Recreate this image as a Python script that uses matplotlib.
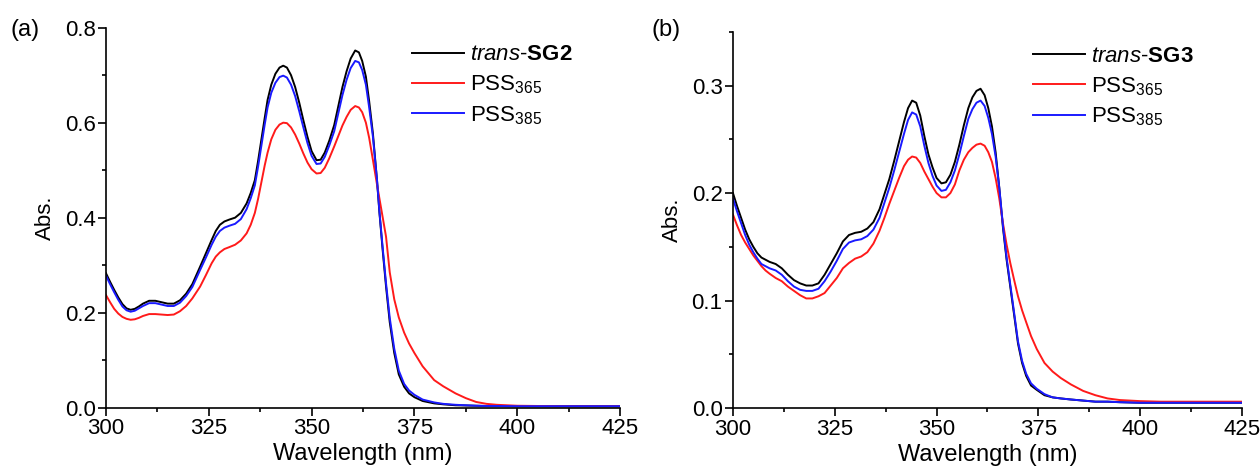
import matplotlib
matplotlib.use("Agg")
import matplotlib.pyplot as plt
from matplotlib.ticker import MultipleLocator, FormatStrFormatter

plt.rcParams['font.family'] = ['Liberation Sans', 'DejaVu Sans']
plt.rcParams['mathtext.fontset'] = 'custom'
plt.rcParams['mathtext.rm'] = 'Liberation Sans'
plt.rcParams['mathtext.it'] = 'Liberation Sans:italic'
plt.rcParams['mathtext.bf'] = 'Liberation Sans:bold'

# ---- (a) SG2 ----
wl_a = [300, 301, 302, 303, 304, 305, 306, 307, 308, 309,
        310.5, 312, 313.5, 315, 316.5, 318, 319.5, 321,
        322.9, 324.3, 325.7, 326.7, 327.7, 328.8, 330, 331.4, 332.8, 334.2, 335.2, 336.2,
        337, 337.8, 338.6, 339.3, 340.2, 341.2, 342.2, 343.1, 344, 345,
        346, 347, 348, 349, 350, 351.2, 352.2, 353.2, 354.3, 355.5,
        356.5, 357.5, 358.5, 359.5, 360.6, 361.5, 362.3, 363.2, 364, 364.9,
        365.9, 366.5, 367.3, 368.1, 369, 370.1, 371.2, 372.5, 373.7, 375,
        377, 379.8, 382, 385, 387.5, 390, 392.5, 395, 400, 410, 425]
abs_a_trans = [0.283, 0.265, 0.248, 0.232, 0.218, 0.209, 0.206, 0.208, 0.213, 0.219,
               0.225, 0.225, 0.222, 0.219, 0.219, 0.226, 0.240, 0.260,
               0.297, 0.325, 0.353, 0.372, 0.385, 0.392, 0.396, 0.400, 0.410, 0.430, 0.452, 0.479,
               0.520, 0.565, 0.610, 0.648, 0.680, 0.703, 0.716, 0.720, 0.716, 0.700,
               0.675, 0.642, 0.605, 0.570, 0.540, 0.521, 0.522, 0.537, 0.562, 0.595,
               0.635, 0.675, 0.708, 0.735, 0.752, 0.748, 0.730, 0.697, 0.645, 0.578,
               0.479, 0.410, 0.330, 0.255, 0.180, 0.115, 0.070, 0.044, 0.030, 0.022,
               0.014, 0.009, 0.007, 0.005, 0.0045, 0.004, 0.0035, 0.0035, 0.003, 0.003, 0.003]
abs_a_365 = [0.237, 0.222, 0.208, 0.198, 0.191, 0.187, 0.185, 0.186, 0.189, 0.193,
             0.197, 0.197, 0.196, 0.195, 0.196, 0.203, 0.214, 0.230,
             0.255, 0.279, 0.304, 0.318, 0.327, 0.334, 0.338, 0.343, 0.352, 0.367, 0.385, 0.410,
             0.440, 0.475, 0.510, 0.537, 0.565, 0.585, 0.596, 0.600, 0.599, 0.590,
             0.575, 0.556, 0.535, 0.516, 0.502, 0.493, 0.494, 0.505, 0.525, 0.550,
             0.572, 0.594, 0.612, 0.627, 0.635, 0.632, 0.622, 0.600, 0.568, 0.522,
             0.470, 0.440, 0.400, 0.360, 0.285, 0.228, 0.190, 0.158, 0.135, 0.115,
             0.087, 0.058, 0.045, 0.030, 0.020, 0.012, 0.008, 0.006, 0.004, 0.003, 0.003]
abs_a_385 = [0.278, 0.260, 0.243, 0.227, 0.213, 0.205, 0.202, 0.204, 0.209, 0.214,
             0.220, 0.220, 0.217, 0.214, 0.214, 0.221, 0.235, 0.254,
             0.290, 0.316, 0.343, 0.360, 0.372, 0.379, 0.383, 0.387, 0.397, 0.418, 0.441, 0.468,
             0.508, 0.552, 0.596, 0.632, 0.663, 0.684, 0.696, 0.699, 0.695, 0.680,
             0.656, 0.624, 0.590, 0.557, 0.530, 0.513, 0.514, 0.528, 0.552, 0.582,
             0.620, 0.658, 0.690, 0.715, 0.730, 0.727, 0.711, 0.680, 0.632, 0.571,
             0.480, 0.412, 0.335, 0.262, 0.189, 0.124, 0.078, 0.050, 0.036, 0.027,
             0.017, 0.011, 0.008, 0.006, 0.005, 0.004, 0.0035, 0.0035, 0.003, 0.003, 0.003]

# ---- (b) SG3 ----
wl_b = [300, 301, 302, 303, 304, 305, 306, 307, 308, 309,
        310.5, 312, 313.5, 315, 316.5, 318, 319.5, 321,
        322.5, 324, 325.5, 327, 328.5, 330, 331.5, 333, 334.5, 336,
        337.2, 338.4, 339.6, 340.8, 342, 343, 344, 345, 346, 347,
        348, 349, 350, 351.2, 352.3, 353.4, 354.5, 355.6, 356.7, 357.8,
        358.8, 359.8, 360.8, 361.8, 362.7, 363.6, 364.5, 365.4, 366.3, 367.2,
        368.1, 369, 370, 371, 372, 373.2, 374.6, 376.5, 378.5, 380.5,
        383, 386, 389, 392, 395, 400, 405, 415, 425]
abs_b_trans = [0.200, 0.188, 0.177, 0.166, 0.157, 0.150, 0.144, 0.140, 0.138, 0.136,
               0.134, 0.130, 0.124, 0.119, 0.116, 0.114, 0.114, 0.116,
               0.124, 0.134, 0.144, 0.155, 0.161, 0.163, 0.164, 0.167, 0.173, 0.185,
               0.199, 0.213, 0.230, 0.248, 0.266, 0.279, 0.286, 0.284, 0.272, 0.253,
               0.236, 0.224, 0.214, 0.209, 0.210, 0.217, 0.229, 0.245, 0.263, 0.279,
               0.289, 0.295, 0.297, 0.291, 0.279, 0.262, 0.238, 0.205, 0.168, 0.138,
               0.113, 0.088, 0.060, 0.042, 0.030, 0.021, 0.017, 0.012, 0.010, 0.009,
               0.008, 0.007, 0.006, 0.006, 0.0055, 0.005, 0.005, 0.005, 0.005]
abs_b_365 = [0.180, 0.170, 0.161, 0.154, 0.148, 0.142, 0.137, 0.132, 0.128, 0.125,
             0.121, 0.118, 0.113, 0.109, 0.105, 0.102, 0.102, 0.104,
             0.107, 0.114, 0.121, 0.130, 0.135, 0.139, 0.141, 0.145, 0.153, 0.165,
             0.177, 0.190, 0.202, 0.214, 0.225, 0.231, 0.234, 0.233, 0.228, 0.220,
             0.213, 0.206, 0.200, 0.196, 0.196, 0.200, 0.208, 0.221, 0.231, 0.238,
             0.242, 0.245, 0.246, 0.244, 0.238, 0.229, 0.214, 0.195, 0.172, 0.152,
             0.135, 0.120, 0.104, 0.091, 0.080, 0.067, 0.055, 0.042, 0.034, 0.028,
             0.022, 0.016, 0.012, 0.009, 0.0075, 0.0065, 0.006, 0.006, 0.006]
abs_b_385 = [0.195, 0.183, 0.172, 0.161, 0.152, 0.145, 0.139, 0.134, 0.132, 0.130,
             0.128, 0.124, 0.118, 0.113, 0.110, 0.109, 0.109, 0.111,
             0.118, 0.127, 0.137, 0.148, 0.154, 0.156, 0.157, 0.160, 0.166, 0.177,
             0.191, 0.205, 0.221, 0.238, 0.255, 0.268, 0.275, 0.273, 0.262, 0.244,
             0.228, 0.216, 0.207, 0.202, 0.203, 0.210, 0.221, 0.236, 0.253, 0.269,
             0.278, 0.284, 0.286, 0.281, 0.270, 0.255, 0.234, 0.205, 0.170, 0.140,
             0.115, 0.090, 0.062, 0.044, 0.032, 0.023, 0.018, 0.013, 0.010, 0.009,
             0.008, 0.007, 0.006, 0.006, 0.0055, 0.005, 0.005, 0.005, 0.005]

fig = plt.figure(figsize=(12.6, 4.74), dpi=100)
ax1 = fig.add_axes([0.0841, 0.140, 0.408, 0.8016])
ax2 = fig.add_axes([0.5817, 0.139, 0.404, 0.794])

lw = 1.4
ax1.plot(wl_a, abs_a_trans, color='black', lw=lw, label=r'$\mathit{trans}$-$\mathbf{SG2}$')
ax1.plot(wl_a, abs_a_365, color='#ff1a1a', lw=lw, label=r'PSS$_{365}$')
ax1.plot(wl_a, abs_a_385, color='#1a1aff', lw=lw, label=r'PSS$_{385}$')

ax2.plot(wl_b, abs_b_trans, color='black', lw=lw, label=r'$\mathit{trans}$-$\mathbf{SG3}$')
ax2.plot(wl_b, abs_b_365, color='#ff1a1a', lw=lw, label=r'PSS$_{365}$')
ax2.plot(wl_b, abs_b_385, color='#1a1aff', lw=lw, label=r'PSS$_{385}$')

ax1.set_ylim(0, 0.8)
ax1.yaxis.set_major_locator(MultipleLocator(0.2))
ax1.yaxis.set_minor_locator(MultipleLocator(0.1))
ax2.set_ylim(0, 0.35)
ax2.yaxis.set_major_locator(MultipleLocator(0.1))
ax2.yaxis.set_minor_locator(MultipleLocator(0.05))

for ax in (ax1, ax2):
    ax.set_xlim(300, 425)
    ax.xaxis.set_major_locator(MultipleLocator(25))
    ax.xaxis.set_minor_locator(MultipleLocator(12.5))
    ax.yaxis.set_major_formatter(FormatStrFormatter('%.1f'))
    for s in ('top', 'right'):
        ax.spines[s].set_visible(False)
    for s in ('left', 'bottom'):
        ax.spines[s].set_linewidth(1.2)
    ax.tick_params(which='major', direction='out', length=5.5, width=1.2, labelsize=16, pad=2)
    ax.tick_params(which='minor', direction='out', length=3.2, width=1.2)
    ax.set_xlabel('Wavelength (nm)', fontsize=17, labelpad=3)
    ax.set_ylabel('Abs.', fontsize=16, labelpad=6)

ax1.legend(loc='upper left', bbox_to_anchor=(0.595, 0.956), frameon=False, fontsize=16,
           handlelength=2.35, handletextpad=0.28, labelspacing=0.36, borderpad=0, borderaxespad=0)
ax2.legend(loc='upper left', bbox_to_anchor=(0.589, 0.962), frameon=False, fontsize=16,
           handlelength=2.35, handletextpad=0.28, labelspacing=0.36, borderpad=0, borderaxespad=0)

fig.text(0.008, 0.937, '(a)', fontsize=17, va='center')
fig.text(0.517, 0.937, '(b)', fontsize=17, va='center')

fig.savefig('out.png', dpi=100)
